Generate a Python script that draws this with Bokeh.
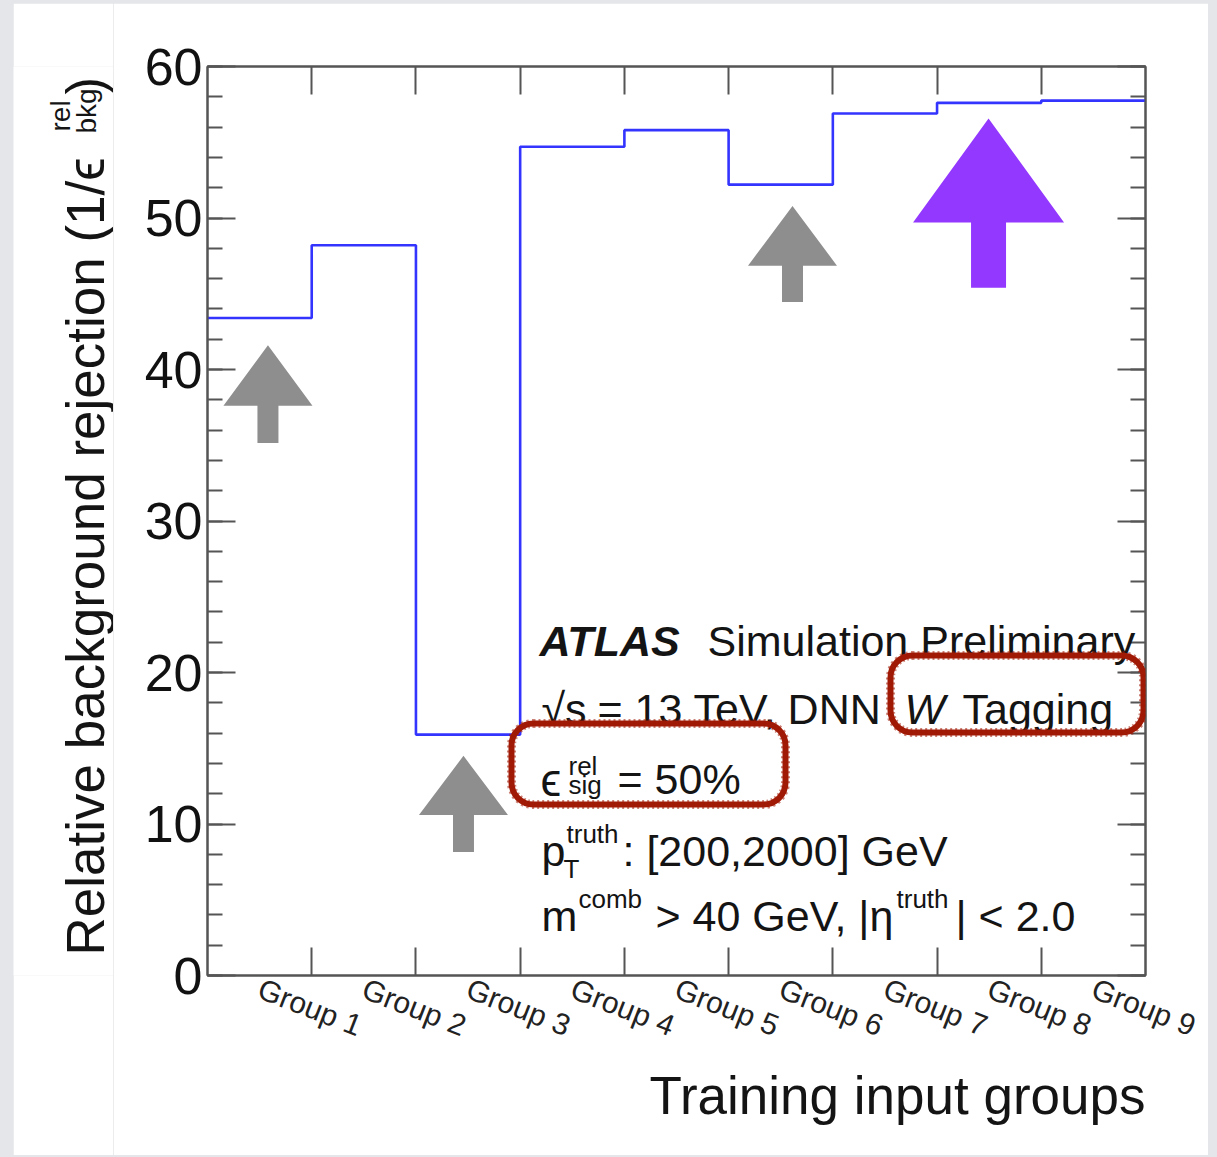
import numpy as np
from bokeh.plotting import figure
from bokeh.models import (LinearAxis, FixedTicker, Range1d, Label, Title,
                          BoxAnnotation)
from bokeh.core.properties import value
from bokeh.layouts import row
from bokeh.embed import file_html
from bokeh.resources import INLINE

# ---------------- data ----------------
groups = ["Group 1", "Group 2", "Group 3", "Group 4", "Group 5",
          "Group 6", "Group 7", "Group 8", "Group 9"]
rejection = [43.4, 48.2, 15.9, 54.7, 55.8, 52.2, 56.9, 57.6, 57.75]
y_major = [0, 10, 20, 30, 40, 50, 60]
y_minor = list(range(0, 61, 2))
bin_edges = list(range(0, 10))
bin_centers = [e + 0.5 for e in bin_edges[:-1]]

# arrow annotations (data units): centre x, tip y, head-base y, tail y
gray_arrow_x = [0.58, 2.456, 5.613]
gray_arrow_tip = [41.6, 14.5, 50.8]
gray_arrow_base = [37.6, 10.6, 46.85]
gray_arrow_tail = [35.15, 8.15, 44.45]
purple_arrow = dict(x=7.494, tip=56.57, base=49.7, tail=45.4)

# ---------------- layout constants (page pixels) ----------------
PAGE_W, PAGE_H = 1217, 1157
M_TOP, M_RIGHT, M_BOTTOM, M_LEFT = 3, 9, 2, 13
LEFT_W = 100
FR_L, FR_R, FR_T, FR_B = 207, 1145, 66, 975
XMIN, XMAX, YMIN, YMAX = 0, 9, 0, 60

fig_h = PAGE_H - M_TOP - M_BOTTOM
fig_w = PAGE_W - M_LEFT - M_RIGHT - LEFT_W
P_X0 = M_LEFT + LEFT_W  # page x of main figure's left edge


def dx(px):
    return XMIN + (px - FR_L) / (FR_R - FR_L) * (XMAX - XMIN)


def dy(py):
    return YMIN + (FR_B - py) / (FR_B - FR_T) * (YMAX - YMIN)


def wx(pw):
    return pw / (FR_R - FR_L) * (XMAX - XMIN)


FONT = "Liberation Sans"
AX_COL = "#555555"
TXT_COL = "#141414"

p = figure(width=fig_w, height=fig_h,
           x_range=Range1d(XMIN, XMAX), y_range=Range1d(YMIN, YMAX),
           output_backend="svg", toolbar_location=None,
           min_border_left=FR_L - P_X0,
           min_border_right=(P_X0 + fig_w) - FR_R,
           min_border_top=FR_T - M_TOP,
           min_border_bottom=(M_TOP + fig_h) - FR_B,
           background_fill_color="white", border_fill_color="white",
           outline_line_color=AX_COL, outline_line_width=2)
p.margin = (M_TOP, M_RIGHT, M_BOTTOM, 0)
p.grid.visible = False

# x axis (bottom): labels at bin centres, tick marks at bin boundaries
xa = p.xaxis[0]
xa.ticker = FixedTicker(ticks=bin_centers, minor_ticks=bin_edges[1:-1])
xa.major_label_overrides = {c: g for c, g in zip(bin_centers, groups)}
xa.major_label_orientation = -0.37
xa.major_label_standoff = 12
xa.major_label_text_font = FONT
xa.major_label_text_font_size = "30px"
xa.major_label_text_color = "#222222"
xa.major_tick_in = 0
xa.major_tick_out = 0
xa.minor_tick_in = 28
xa.minor_tick_out = 0
xa.axis_line_color = AX_COL
xa.axis_line_width = 2
xa.minor_tick_line_color = AX_COL
xa.minor_tick_line_width = 2

# y axis (left)
ya = p.yaxis[0]
ya.ticker = FixedTicker(ticks=y_major, minor_ticks=y_minor)
ya.major_tick_in = 28
ya.major_tick_out = 0
ya.minor_tick_in = 15
ya.minor_tick_out = 0
ya.major_label_standoff = 5
ya.major_label_text_font = FONT
ya.major_label_text_font_size = "52px"
ya.major_label_text_color = "#111111"
ya.axis_line_color = AX_COL
ya.axis_line_width = 2
ya.major_tick_line_color = AX_COL
ya.major_tick_line_width = 2
ya.minor_tick_line_color = AX_COL
ya.minor_tick_line_width = 2

# right axis
ra = LinearAxis(ticker=FixedTicker(ticks=y_major, minor_ticks=y_minor),
                major_tick_in=28, major_tick_out=0, minor_tick_in=15, minor_tick_out=0,
                major_label_text_color=None, axis_line_color=AX_COL, axis_line_width=2,
                major_tick_line_color=AX_COL, major_tick_line_width=2,
                minor_tick_line_color=AX_COL, minor_tick_line_width=2)
p.add_layout(ra, "right")

# top axis
ta = LinearAxis(ticker=FixedTicker(ticks=bin_edges[1:-1], minor_ticks=[]),
                major_tick_in=28, major_tick_out=0, minor_tick_in=0, minor_tick_out=0,
                major_label_text_color=None, axis_line_color=AX_COL, axis_line_width=2,
                major_tick_line_color=AX_COL, major_tick_line_width=2)
p.add_layout(ta, "above")

# x axis title
p.add_layout(Title(text="Training input groups", align="right", text_font=FONT,
                   text_font_size="53px", text_font_style="normal",
                   text_color=TXT_COL, standoff=6), "below")

# ---------------- histogram step line ----------------
step_y = rejection + [rejection[-1]]
p.step(x=bin_edges, y=step_y, mode="after", line_color="#3434ff", line_width=2.6)


# ---------------- arrows ----------------
def arrow_poly(cx, tip, base, tail, hw, sw):
    xs = [cx, cx + hw, cx + sw, cx + sw, cx - sw, cx - sw, cx - hw]
    ys = [tip, base, base, tail, tail, base, base]
    return xs, ys


gx, gy = [], []
for cx, t, b, tl in zip(gray_arrow_x, gray_arrow_tip, gray_arrow_base, gray_arrow_tail):
    xs, ys = arrow_poly(cx, t, b, tl, wx(44.5), wx(10.5))
    gx.append(xs)
    gy.append(ys)
p.patches(gx, gy, fill_color="#8e8e8e", line_color=None)

pxs, pys = arrow_poly(purple_arrow["x"], purple_arrow["tip"], purple_arrow["base"],
                      purple_arrow["tail"], wx(75.5), wx(17.5))
p.patch(pxs, pys, fill_color="#9338ff", line_color=None)


# ---------------- texts in the frame ----------------
def txt(px, py, s, size, style="normal", color=TXT_COL, align="left"):
    p.add_layout(Label(x=dx(px), y=dy(py), text=s, text_font=FONT,
                       text_font_size=f"{size}px", text_font_style=style,
                       text_color=color, text_align=align,
                       text_baseline="alphabetic"))


MAIN = 43
SUB = 26
txt(539, 640, "ATLAS", MAIN, "bold italic")
txt(707, 640, "Simulation Preliminary", MAIN)
txt(541, 708, "\u221As", MAIN)
txt(597, 708, "= 13 TeV, DNN", MAIN)
txt(904, 708, "W", MAIN, "italic")
txt(962, 708, "Tagging", MAIN)
txt(540, 779, "\u03F5", 47)
txt(568, 765, "rel", SUB)
txt(568, 784, "sig", SUB)
txt(617, 778, "= 50%", MAIN)
txt(541, 850, "p", MAIN)
txt(566, 833, "truth", SUB)
txt(563, 868, "T", SUB)
txt(622, 850, ": [200,2000] GeV", MAIN)
txt(541, 915, "m", MAIN)
txt(578, 898, "comb", SUB)
txt(655, 915, "> 40 GeV, |\u03B7", MAIN)
txt(896, 898, "truth", SUB)
txt(955, 915, "| < 2.0", MAIN)

# ---------------- red hand-drawn highlight boxes ----------------
for (l, r, t, b) in [(890, 1143, 655, 732), (511, 785, 723, 804)]:
    p.add_layout(BoxAnnotation(left=dx(l), right=dx(r), top=dy(t), bottom=dy(b),
                               fill_alpha=0, line_color="#a01a06", line_alpha=1.0,
                               line_width=6, border_radius=22))
    p.add_layout(BoxAnnotation(left=dx(l), right=dx(r), top=dy(t), bottom=dy(b),
                               fill_alpha=0, line_color="#a01a06", line_alpha=0.55,
                               line_width=9, line_dash="2 3", border_radius=22))

# ---------------- left panel with the y axis title ----------------
# (its frame gets aligned with the main frame, i.e. page y 66..975)
lf = figure(width=LEFT_W, height=fig_h, x_range=Range1d(0, LEFT_W),
            y_range=Range1d(-FR_B, -FR_T), output_backend="svg", toolbar_location=None,
            x_axis_location=None, y_axis_location=None, min_border=0,
            outline_line_color=None, background_fill_color="white",
            border_fill_color="white")
lf.grid.visible = False
lf.margin = (M_TOP, 0, M_BOTTOM, M_LEFT)


def ly(px, py, s, size):
    lf.text(x=[px - M_LEFT], y=[-py], text=[s], angle=np.pi / 2,
            text_font=value(FONT), text_font_size=value(f"{size}px"),
            text_color=TXT_COL, text_align="left", text_baseline="alphabetic")


ly(85, 955, "Relative background rejection (1/\u03F5", 53)
ly(60, 131, "rel", 28)
ly(86, 133, "bkg", 28)
ly(85, 94, ")", 53)

lay = row(lf, p, styles={"background-color": "#e4e6e9"})
open("out.html", "w").write(file_html(lay, INLINE))
